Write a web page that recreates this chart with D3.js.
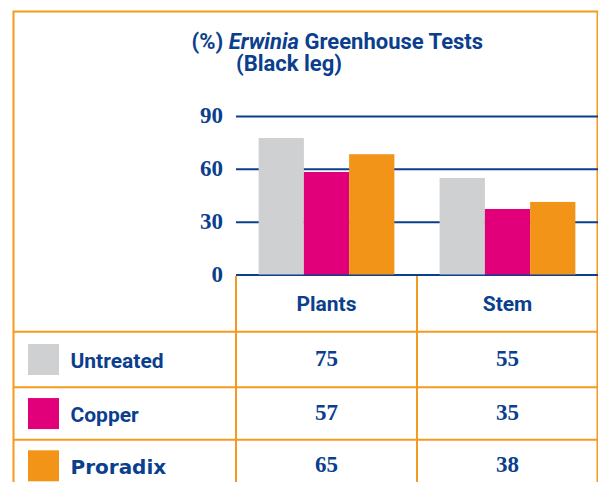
<!DOCTYPE html>
<html>
<head>
<meta charset="utf-8">
<script src="https://cdnjs.cloudflare.com/ajax/libs/d3/7.8.5/d3.min.js"></script>
<style>
  body { margin: 0; background: #fff; }
  svg { display: block; }
</style>
</head>
<body>
<svg width="598" height="482"></svg>
<script>
var svg = d3.select("svg"),
    width = +svg.attr("width"),
    height = +svg.attr("height");

// data
var groups = ["Plants", "Stem"];
var series = ["Untreated", "Copper", "Proradix"];
var colours = ["#cfd0d2", "#e2007a", "#f29418"];
// bar heights as drawn in the picture
var plantsBars = [77.5, 58.2, 68.3];
var stemBars = [54.8, 37.2, 41.2];
// values printed in the table
var plantsTable = ["75", "57", "65"];
var stemTable = ["55", "35", "38"];
var yTicks = [0, 30, 60, 90];

var blue = "#0b3f8e",
    orange = "#f39a1f";

var serif = "'Liberation Serif', 'DejaVu Serif', serif",
    sans = "Roboto, 'Open Sans', sans-serif";

// scales
var y = d3.scaleLinear().domain([0, 90]).range([274.5, 116]);
var x0 = d3.scaleBand().domain(groups).range([236, 598])
    .paddingInner(0.25).paddingOuter(0.125);
var x1 = d3.scaleBand().domain(series).range([0, x0.bandwidth()]);

// table column and row edges
var colX = d3.scaleBand().domain(groups).range([236, 598]);
var rowY = d3.scaleOrdinal().domain(series).range([331.7, 387.3, 439.8]);
var rowH = [55.6, 52.5, 52];

// outer border
svg.append("rect")
    .attr("x", 13.5).attr("y", 11.5)
    .attr("width", 584).attr("height", 500)
    .attr("fill", "none")
    .attr("stroke", orange)
    .attr("stroke-width", 2);

// title
var title = svg.append("text")
    .attr("x", 191.5).attr("y", 48.5)
    .attr("fill", blue)
    .style("font-family", sans)
    .style("font-weight", "bold")
    .style("font-size", "22px");
title.append("tspan").text("(%) ");
title.append("tspan").style("font-style", "italic").text("Erwinia");
title.append("tspan").text(" Greenhouse Tests");

svg.append("text")
    .attr("x", 236).attr("y", 71)
    .attr("fill", blue)
    .style("font-family", sans)
    .style("font-weight", "bold")
    .style("font-size", "22px")
    .text("(Black leg)");

// grid lines + y labels
var yAxis = d3.axisLeft(y)
    .tickValues(yTicks)
    .tickSizeInner(362)
    .tickSizeOuter(0)
    .tickPadding(13);

var gy = svg.append("g")
    .attr("transform", "translate(598,0)")
    .call(yAxis);
gy.select(".domain").remove();
gy.selectAll(".tick line")
    .attr("stroke", blue)
    .attr("stroke-width", 2);
gy.selectAll(".tick text")
    .attr("fill", blue)
    .attr("dy", "0.3em")
    .style("font-family", serif)
    .style("font-weight", "bold")
    .style("font-size", "23px");

// bars
var barData = [plantsBars, stemBars];
var bars = svg.append("g").selectAll("g")
    .data(groups)
    .enter().append("g")
    .attr("transform", function (d) { return "translate(" + x0(d) + ",0)"; });

bars.selectAll("rect")
    .data(function (d, i) {
        return series.map(function (s, j) { return { s: s, v: barData[i][j] }; });
    })
    .enter().append("rect")
    .attr("x", function (d) { return x1(d.s); })
    .attr("width", x1.bandwidth())
    .attr("y", function (d) { return y(d.v); })
    .attr("height", function (d) { return y(0) - y(d.v); })
    .attr("fill", function (d, j) { return colours[j]; });

// table lines
var tbl = svg.append("g");
tbl.selectAll("line.v")
    .data([236, 417])
    .enter().append("line")
    .attr("x1", function (d) { return d; }).attr("x2", function (d) { return d; })
    .attr("y1", 276).attr("y2", height)
    .attr("stroke", orange).attr("stroke-width", 2);

tbl.selectAll("line.h")
    .data(series)
    .enter().append("line")
    .attr("x1", 13).attr("x2", 598)
    .attr("y1", function (d) { return rowY(d); })
    .attr("y2", function (d) { return rowY(d); })
    .attr("stroke", orange).attr("stroke-width", 2);

// column headers
tbl.selectAll("text.head")
    .data(groups)
    .enter().append("text")
    .attr("x", function (d) { return colX(d) + colX.bandwidth() / 2; })
    .attr("y", 310.5)
    .attr("text-anchor", "middle")
    .attr("fill", blue)
    .style("font-family", sans)
    .style("font-weight", "bold")
    .style("font-size", "21px")
    .text(function (d) { return d; });

// legend swatches and names
var rows = tbl.selectAll("g.row")
    .data(series)
    .enter().append("g")
    .attr("transform", function (d) { return "translate(0," + rowY(d) + ")"; });

rows.append("rect")
    .attr("x", 28)
    .attr("y", function (d, i) { return rowH[i] / 2 - 15.5; })
    .attr("width", 31).attr("height", 31)
    .attr("fill", function (d, i) { return colours[i]; });

// Proradix is set in the heavier brand face
rows.append("text")
    .attr("x", 70.5)
    .attr("y", function (d, i) { return rowH[i] / 2 + 8.5; })
    .attr("fill", blue)
    .style("font-family", function (d) { return d == "Proradix" ? "'DejaVu Sans', sans-serif" : sans; })
    .style("font-weight", "bold")
    .style("font-size", function (d) { return d == "Proradix" ? "20px" : "21px"; })
    .text(function (d) { return d; });

// table numbers
var tableData = [plantsTable, stemTable];
groups.forEach(function (g, i) {
    rows.append("text")
        .attr("x", colX(g) + colX.bandwidth() / 2)
        .attr("y", function (d, j) { return rowH[j] / 2 + 6.5; })
        .attr("text-anchor", "middle")
        .attr("fill", blue)
        .style("font-family", serif)
        .style("font-weight", "bold")
        .style("font-size", "23px")
        .text(function (d, j) { return tableData[i][j]; });
});
</script>
</body>
</html>
